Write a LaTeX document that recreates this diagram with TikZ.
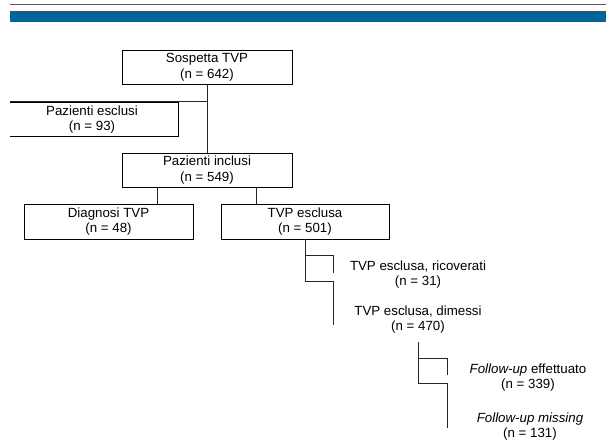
\documentclass[tikz,border=0pt]{standalone}
\usepackage{fontspec}
\setmainfont{Liberation Sans}
\definecolor{bandblue}{RGB}{0,102,153}
\definecolor{rulegray}{RGB}{90,90,90}

\begin{document}
\begin{tikzpicture}[x=1pt,y=-1pt,
    box/.style={draw,line width=0.8pt,minimum height=34pt,inner sep=0pt,align=center,
      font=\fontsize{13.3}{15.5}\selectfont},
    lbl/.style={inner sep=0pt,align=center,font=\fontsize{13.3}{15.5}\selectfont},
    link/.style={line width=0.8pt,draw=black!85}]
    \useasboundingbox (0,0) rectangle (606,443);
    \begin{scope}
    \clip (10,0) rectangle (606,443);
    \draw[rulegray,line width=1.2pt] (10,4.5) -- (606,4.5);
    \fill[bandblue] (10,11) rectangle (606,22.5);
    \node[box,minimum width=170pt] (sosp) at (207,67) {Sospetta TVP\\(n = 642)};
    \node[box,minimum width=172pt] (escl) at (92,119.5) {Pazienti esclusi\\(n = 93)};
    \node[box,minimum width=170pt] (incl) at (207,170) {Pazienti inclusi\\(n = 549)};
    \node[box,minimum width=169pt,minimum height=35pt] (diag) at (108.5,221.5) {Diagnosi TVP\\(n = 48)};
    \node[box,minimum width=168pt,minimum height=35pt] (tvpe) at (305,221.5) {TVP esclusa\\(n = 501)};
    \node[lbl] (ricov) at (418,274.5) {TVP esclusa, ricoverati\\(n = 31)};
    \node[lbl] (dimes) at (418,319.5) {TVP esclusa, dimessi\\(n = 470)};
    \node[lbl] (eff) at (528,377.5) {\textit{Follow-up} effettuato\\(n = 339)};
    \node[lbl] (miss) at (530,426.5) {\textit{Follow-up missing}\\(n = 131)};
    % excluded patients branch
    \coordinate (cut) at (0,101);
    \draw[link] (sosp.south) -- (sosp.south |- incl.north);
    \draw[link] (sosp.south) |- (cut);
    % split after inclusion
    \draw[link] ([xshift=-50pt]incl.south) -- ([xshift=-50pt]incl.south |- diag.north);
    \draw[link] ([xshift=49pt]incl.south) -- ([xshift=49pt]incl.south |- tvpe.north);
    % excluded TVP, ricoverati / dimessi
    \coordinate (t1) at (305,255);
    \coordinate (t2) at (305,281);
    \draw[link] (tvpe.south) -- (t2);
    \draw[link] (t1) -| (333,273);
    \draw[link] (t2) -| (333,325);
    % follow-up
    \coordinate (f0) at (418,342);
    \coordinate (f1) at (418,358);
    \coordinate (f2) at (418,383);
    \draw[link] (f0) -- (f2);
    \draw[link] (f1) -| (447,375);
    \draw[link] (f2) -| (447,428);
    \end{scope}
\end{tikzpicture}
\end{document}
